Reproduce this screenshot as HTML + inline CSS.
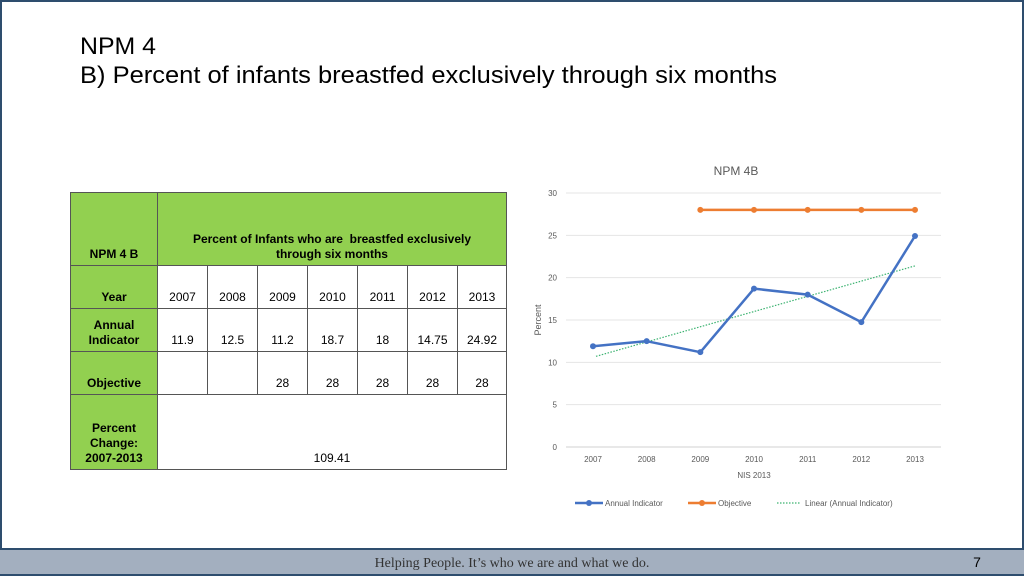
<!DOCTYPE html>
<html><head><meta charset="utf-8"><style>
html,body{margin:0;padding:0;background:#fff}
#slide{position:relative;width:1024px;height:576px;overflow:hidden;font-family:"Liberation Sans",sans-serif}
.c{position:absolute;box-sizing:border-box;border:1px solid #555;display:flex;align-items:flex-end;justify-content:center;text-align:center;font-size:12px;color:#000;line-height:15px;padding-bottom:3px}
.g{background:#92d050;font-weight:bold}
</style></head><body>
<div id="slide">
<svg width="1024" height="576" style="position:absolute;left:0;top:0">
  <rect x="1" y="1" width="1022" height="574" fill="#fff" stroke="#2e4d6e" stroke-width="2"/>
  <rect x="0" y="548" width="1024" height="28" fill="#a3afbf"/>
  <line x1="0" y1="549" x2="1024" y2="549" stroke="#2e4d6e" stroke-width="2"/>
  <line x1="0" y1="575" x2="1024" y2="575" stroke="#2e4d6e" stroke-width="2"/>
  <text x="80" y="54" font-family="'Liberation Sans Narrow','Liberation Sans',sans-serif" font-size="24" textLength="76" lengthAdjust="spacingAndGlyphs" fill="#000">NPM 4</text>
  <text x="80" y="83" font-family="'Liberation Sans Narrow','Liberation Sans',sans-serif" font-size="24" textLength="697" lengthAdjust="spacingAndGlyphs" fill="#000">B) Percent of infants breastfed exclusively through six months</text>
  <text x="512" y="567" text-anchor="middle" font-family="'Liberation Serif',serif" font-size="14" fill="#333">Helping People.  It’s who we are and what we do.</text>
  <text x="977" y="567" text-anchor="middle" font-family="'Liberation Sans',sans-serif" font-size="14" fill="#000">7</text>
</svg>

<div>
<div class="c g" style="left:70px;top:192px;width:88px;height:74px">NPM 4 B</div>
<div class="c g" style="left:157px;top:192px;width:350px;height:74px">Percent of Infants who are&nbsp; breastfed exclusively<br>through six months</div>
<div class="c g" style="left:70px;top:265px;width:88px;height:44px">Year</div>
<div class="c g" style="left:70px;top:308px;width:88px;height:44px">Annual<br>Indicator</div>
<div class="c g" style="left:70px;top:351px;width:88px;height:44px">Objective</div>
<div class="c g" style="left:70px;top:394px;width:88px;height:76px">Percent<br>Change:<br>2007-2013</div>
<div class="c" style="left:157px;top:394px;width:350px;height:76px">109.41</div>
<div id="cells"></div>
</div>

<svg id="chart" width="1024" height="576" style="position:absolute;left:0;top:0"></svg>
</div>
<script>
const years = ["2007","2008","2009","2010","2011","2012","2013"];
const annual = [11.9, 12.5, 11.2, 18.7, 18, 14.75, 24.92];
const annualLabels = ["11.9","12.5","11.2","18.7","18","14.75","24.92"];
const objective = [null, null, 28, 28, 28, 28, 28];
const yTicks = [0, 5, 10, 15, 20, 25, 30];

const cells = document.getElementById('cells');
function cell(x, y, w, txt, name) {
  const d = document.createElement('div');
  d.className = 'c';
  d.style.cssText = `left:${x}px;top:${y}px;width:${w}px;height:44px`;
  d.textContent = txt;
  
  
  cells.appendChild(d);
}
years.forEach((yr, i) => {
  const x = 157 + i * 50;
  const w = i === years.length - 1 ? 50 : 51;
  cell(x, 265, w, yr, 'year-cell');
  cell(x, 308, w, annualLabels[i], 'annual-cell');
  cell(x, 351, w, objective[i] == null ? '' : String(objective[i]), 'objective-cell');
});

const svg = document.getElementById('chart');
const NS = 'http://www.w3.org/2000/svg';
const X0 = 593, XSTEP = (915 - 593) / (years.length - 1);
const Y0 = 447, YTOP = 193, YMAX = 30;
const xs = i => X0 + i * XSTEP;
const ys = v => Y0 - (v / YMAX) * (Y0 - YTOP);
function el(tag, attrs, parent) {
  const e = document.createElementNS(NS, tag);
  for (const k in attrs) e.setAttribute(k, attrs[k]);
  (parent || svg).appendChild(e);
  return e;
}
function txt(x, y, s, size, fill, anchor) {
  const t = el('text', {x, y, 'font-size': size, fill, 'text-anchor': anchor || 'middle', 'font-family': 'Liberation Sans, sans-serif'});
  t.textContent = s;
  return t;
}
const title = txt(736, 175, 'NPM 4B', 12, '#595959');


yTicks.forEach(v => {
  const l = el('line', {x1: 566, x2: 941, y1: ys(v), y2: ys(v), stroke: v === 0 ? '#d0d0d0' : '#e4e4e4', 'stroke-width': 1});
  
  
  const t = txt(557, ys(v) + 3, String(v), 8, '#595959', 'end');
  
  
});
years.forEach((yr, i) => {
  const t = txt(xs(i), 462, yr, 8, '#595959');
  
  
});
const xt = txt(754, 478, 'NIS 2013', 8, '#595959');


const yt = txt(0, 0, 'Percent', 9, '#595959');
yt.setAttribute('transform', 'translate(541,320) rotate(-90)');



const n = annual.length;
const mx = (n - 1) / 2;
const my = annual.reduce((a, b) => a + b, 0) / n;
let sxy = 0, sxx = 0;
annual.forEach((v, i) => { sxy += (i - mx) * (v - my); sxx += (i - mx) * (i - mx); });
const slope = sxy / sxx, icpt = my - slope * mx;
const trend = el('line', {x1: xs(0) + 3, y1: ys(icpt + slope * 0.06), x2: xs(n - 1), y2: ys(icpt + slope * (n - 1)), stroke: '#3cb371', 'stroke-width': 1.2, 'stroke-dasharray': '1.5,1.5'});



function series(vals, color, name) {
  const pts = [];
  vals.forEach((v, i) => { if (v != null) pts.push([xs(i), ys(v)]); });
  const p = el('polyline', {points: pts.map(p => p.join(',')).join(' '), fill: 'none', stroke: color, 'stroke-width': 2.5, 'stroke-linejoin': 'round'});
  
  
  pts.forEach(pt => {
    const c = el('circle', {cx: pt[0], cy: pt[1], r: 3, fill: color});
    
    
  });
}
series(annual, '#4472c4', 'annual-indicator');
series(objective, '#ed7d31', 'objective');

const lg = el('g', {});


el('line', {x1: 575, x2: 603, y1: 503, y2: 503, stroke: '#4472c4', 'stroke-width': 2.5}, lg);
el('circle', {cx: 589, cy: 503, r: 3, fill: '#4472c4'}, lg);
const l1 = txt(605, 506, 'Annual Indicator', 8, '#595959', 'start');


el('line', {x1: 688, x2: 716, y1: 503, y2: 503, stroke: '#ed7d31', 'stroke-width': 2.5}, lg);
el('circle', {cx: 702, cy: 503, r: 3, fill: '#ed7d31'}, lg);
const l2 = txt(718, 506, 'Objective', 8, '#595959', 'start');


el('line', {x1: 777, x2: 801, y1: 503, y2: 503, stroke: '#3cb371', 'stroke-width': 1.2, 'stroke-dasharray': '1.5,1.5'}, lg);
const l3 = txt(805, 506, 'Linear (Annual Indicator)', 8, '#595959', 'start');


</script>
</body></html>
